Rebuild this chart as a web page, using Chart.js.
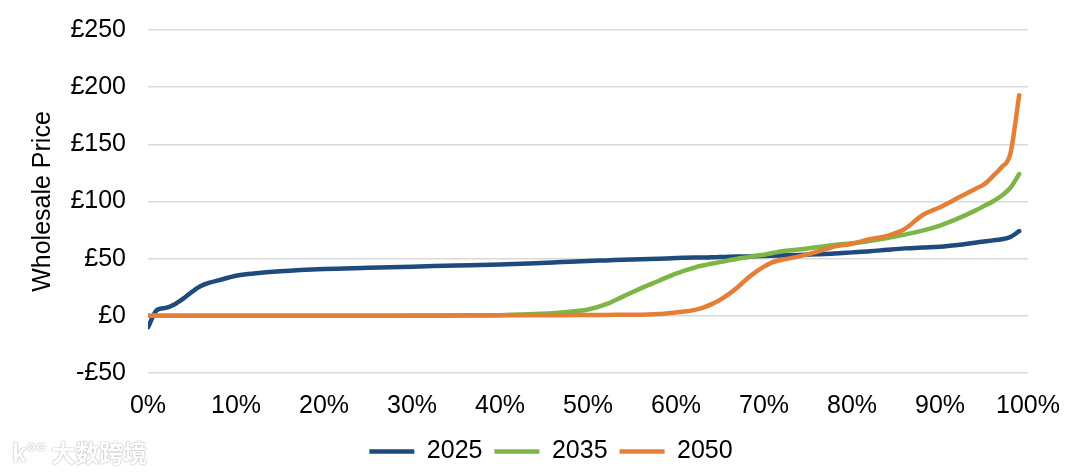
<!DOCTYPE html>
<html>
<head>
<meta charset="utf-8">
<script src="https://cdn.jsdelivr.net/npm/chart.js@4"></script>
<style>
  html, body { margin: 0; padding: 0; background: #fff; }
  #wrap { position: relative; width: 1080px; height: 472px; }
  #watermark {
    position: absolute; left: 12px; top: 434px;
    font-family: "Noto Sans CJK SC", sans-serif; font-size: 24px; font-weight: bold;
    color: #fff; text-shadow: 0 0 1px #aaa, 0 0 2px #bbb;
  }
</style>
</head>
<body>
<div id="wrap">
  <canvas id="myChart" width="1080" height="472"></canvas>
  <div id="watermark">k°° 大数跨境</div>
</div>
<script>
// share of hours (%) along the x axis
const pct = [0, 1, 2, 3, 4, 5, 6, 7, 8, 10, 12, 15, 20, 25, 30, 35, 40, 44, 47, 50,
  52, 54, 56, 58, 60, 62, 63, 64, 65, 66, 67, 68, 69, 70, 71, 72, 74, 76, 78, 80,
  82, 84, 86, 88, 90, 92, 94, 95, 96, 97, 98, 99];

const price2025 = [-10, 5, 7, 10, 15, 21, 26, 29, 31, 35, 37, 39, 41, 42, 43, 44, 45, 46, 47, 48,
  48.5, 49, 49.5, 50, 50.5, 51, 51, 51.2, 51.4, 51.6, 51.8, 52, 52.2, 52.4, 52.6, 52.8, 53.2, 53.8, 54.5, 55.5,
  56.5, 57.8, 59, 59.8, 60.5, 62, 64, 65, 66, 67, 69, 74];

const price2035 = [0, 0, 0, 0, 0, 0, 0, 0, 0, 0, 0, 0, 0, 0, 0, 0.3, 0.6, 1.5, 3, 5.5,
  10, 17, 24, 30.5, 37, 42, 44, 45.5, 47, 48.5, 50, 51, 52.5, 53.5, 55, 56.5, 58, 60, 62, 63.5,
  65.5, 68, 71, 74.5, 79, 85, 92, 96, 100, 105, 112, 124];

const price2050 = [0, 0, 0, 0, 0, 0, 0, 0, 0, 0, 0, 0, 0, 0, 0.3, 0.4, 0.5, 0.5, 0.6, 0.7,
  0.8, 0.9, 1, 1.5, 3, 5, 7, 10, 14, 19, 25, 32, 38, 43, 47, 49, 52, 56, 60.5, 63,
  67, 70, 76, 88, 95, 103, 111, 115, 122, 130, 142, 193];

const years = ['2025', '2035', '2050'];
const colours = ['#1f4a7c', '#7db646', '#e47f38'];

function points(values) {
  return values.map((v, i) => ({ x: pct[i], y: v }));
}

const allSeries = [price2025, price2035, price2050];
const datasets = allSeries.map((s, i) => ({
  label: years[i],
  data: points(s),
  borderColor: colours[i],
  backgroundColor: colours[i],
  borderWidth: 4.5,
  borderCapStyle: 'round',
  borderJoinStyle: 'round',
  pointRadius: 0,
  cubicInterpolationMode: 'monotone',
  order: 3 - i
}));

const font = { family: '"Liberation Sans", Arial, sans-serif', size: 25 };

// nudge the legend a little to the right and down, like in the original
const legendShift = {
  id: 'legendShift',
  afterLayout(chart) {
    chart.legend.left += 24;
    chart.legend.right += 24;
    chart.legend.top += 2;
    chart.legend.bottom += 2;
  }
};

const ctx = document.getElementById('myChart').getContext('2d');
const myChart = new Chart(ctx, {
  type: 'line',
  data: { datasets: datasets },
  plugins: [legendShift],
  options: {
    responsive: false,
    animation: false,
    layout: { padding: { top: 30, right: 52, left: 26, bottom: 0 } },
    plugins: {
      tooltip: { enabled: false },
      legend: {
        position: 'bottom',
        labels: {
          font: font,
          color: '#000',
          usePointStyle: true,
          pointStyle: 'line',
          pointStyleWidth: 45,
          boxHeight: 20,
          padding: 12,
          sort: (a, b) => a.datasetIndex - b.datasetIndex
        }
      }
    },
    scales: {
      x: {
        type: 'linear',
        min: 0,
        max: 100,
        border: { display: false },
        grid: { display: false },
        ticks: {
          stepSize: 10,
          font: font,
          color: '#000',
          padding: 10,
          maxRotation: 0,
          callback: (v) => v + '%'
        },
        afterFit: (scale) => {
          scale.height = 52;
          scale.paddingLeft = 0;
          scale.paddingRight = 0;
        }
      },
      y: {
        min: -50,
        max: 250,
        border: { display: false },
        grid: { color: '#d9d9d9', lineWidth: 1.5, drawTicks: false },
        ticks: {
          stepSize: 50,
          font: font,
          color: '#000',
          padding: 22,
          callback: (v) => (v < 0 ? '-£' + Math.abs(v) : '£' + v)
        },
        title: {
          display: true,
          text: 'Wholesale Price',
          font: { family: font.family, size: 25, lineHeight: 1 },
          color: '#000',
          padding: { top: 4.5, bottom: 0 }
        },
        afterFit: (scale) => {
          scale.width = 122;
          scale.paddingTop = 0;
          scale.paddingBottom = 0;
        }
      }
    }
  }
});
</script>
</body>
</html>
